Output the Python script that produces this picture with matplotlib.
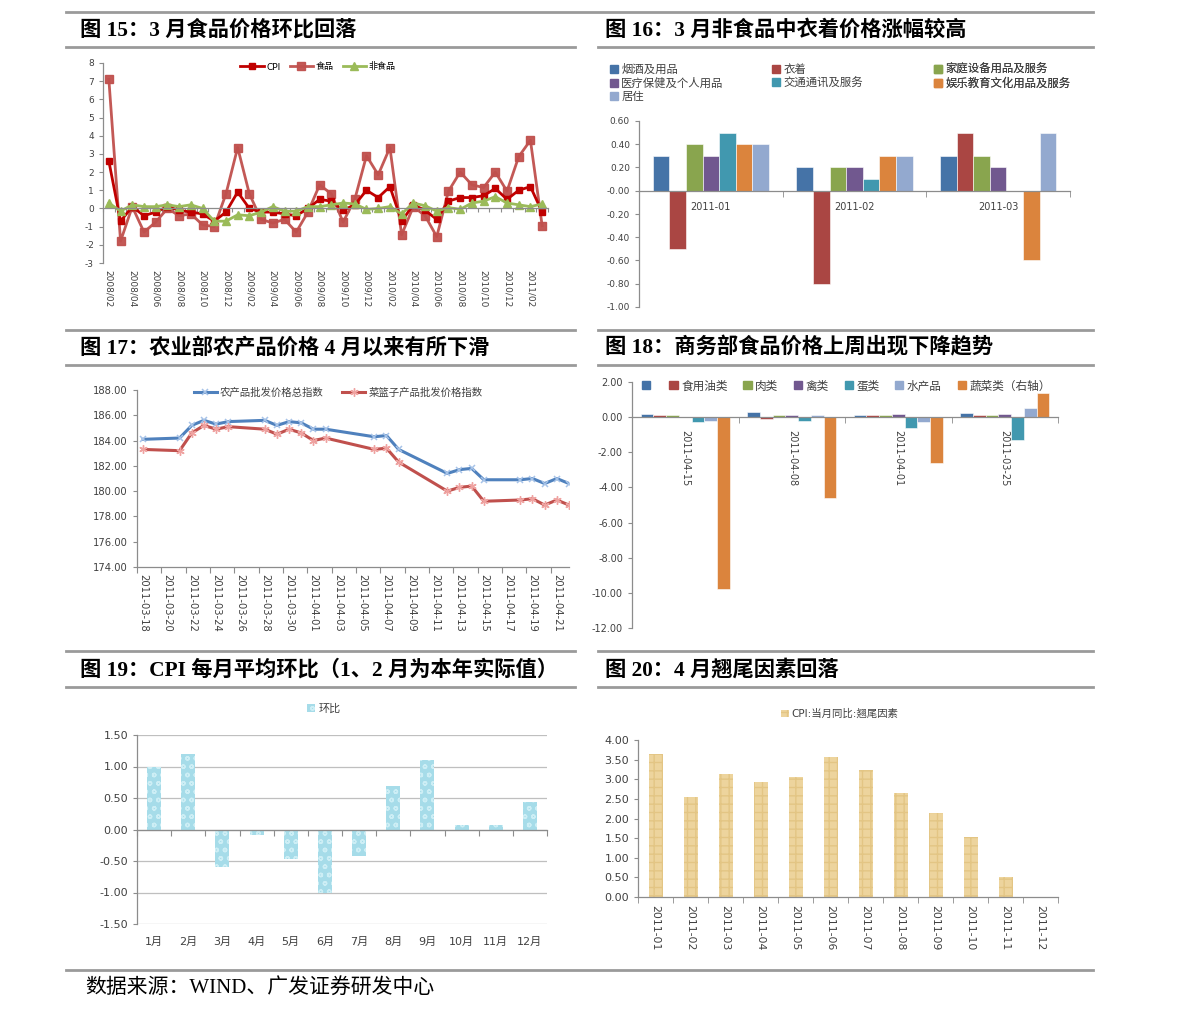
import matplotlib
matplotlib.use('Agg')
import matplotlib.pyplot as plt
import numpy as np
from matplotlib.patches import Patch
from matplotlib.lines import Line2D
from matplotlib.ticker import FormatStrFormatter

plt.rcParams['font.family'] = ['DejaVu Sans', 'Noto Sans CJK SC']
plt.rcParams['axes.unicode_minus'] = False

# ---- fig 15: CPI / food / non-food month-on-month ----
months15 = ['2008/02', '2008/03', '2008/04', '2008/05', '2008/06', '2008/07', '2008/08', '2008/09',
            '2008/10', '2008/11', '2008/12', '2009/01', '2009/02', '2009/03', '2009/04', '2009/05',
            '2009/06', '2009/07', '2009/08', '2009/09', '2009/10', '2009/11', '2009/12', '2010/01',
            '2010/02', '2010/03', '2010/04', '2010/05', '2010/06', '2010/07', '2010/08', '2010/09',
            '2010/10', '2010/11', '2010/12', '2011/01', '2011/02', '2011/03']
cpi15 = [2.6, -0.7, 0.1, -0.4, -0.2, 0.1, -0.1, -0.2, -0.3, -0.7, -0.2, 0.9, 0.0, -0.2, -0.2, -0.3,
         -0.4, 0.0, 0.5, 0.4, -0.1, 0.2, 1.0, 0.6, 1.2, -0.7, 0.2, -0.1, -0.6, 0.4, 0.6, 0.6,
         0.7, 1.1, 0.5, 1.0, 1.2, -0.2]
food15 = [7.1, -1.8, 0.1, -1.3, -0.75, 0.0, -0.4, -0.3, -0.9, -1.0, 0.8, 3.35, 0.8, -0.6, -0.8, -0.6,
          -1.3, -0.2, 1.3, 0.8, -0.75, 0.5, 2.9, 1.85, 3.35, -1.45, 0.1, -0.4, -1.55, 0.95, 2.0, 1.3,
          1.15, 2.0, 0.95, 2.85, 3.75, -0.95]
nonfood15 = [0.3, -0.15, 0.2, 0.1, 0.1, 0.2, 0.1, 0.2, 0.0, -0.7, -0.7, -0.35, -0.4, -0.2, 0.1, -0.15,
             -0.15, 0.1, 0.1, 0.2, 0.3, 0.25, -0.05, 0.0, 0.1, -0.3, 0.3, 0.15, -0.15, 0.05, -0.05, 0.3,
             0.4, 0.65, 0.3, 0.2, 0.1, 0.25]

# ---- fig 16: non-food categories ----
cats16 = ['2011-01', '2011-02', '2011-03']
names16 = ['烟酒及用品', '衣着', '家庭设备用品及服务', '医疗保健及个人用品',
           '交通通讯及服务', '娱乐教育文化用品及服务', '居住']
tobacco16 = [0.30, 0.20, 0.30]
clothing16 = [-0.50, -0.80, 0.50]
household16 = [0.40, 0.20, 0.30]
medical16 = [0.30, 0.20, 0.20]
transport16 = [0.50, 0.10, 0.00]
education16 = [0.40, 0.30, -0.60]
housing16 = [0.40, 0.30, 0.50]

# ---- fig 17: agricultural wholesale price index ----
dates17 = ['2011-03-18', '2011-03-21', '2011-03-22', '2011-03-23', '2011-03-24', '2011-03-25',
           '2011-03-28', '2011-03-29', '2011-03-30', '2011-03-31', '2011-04-01', '2011-04-02',
           '2011-04-06', '2011-04-07', '2011-04-08', '2011-04-12', '2011-04-13', '2011-04-14',
           '2011-04-15', '2011-04-18', '2011-04-19', '2011-04-20', '2011-04-21', '2011-04-22']
agri17 = [184.1, 184.2, 185.2, 185.6, 185.3, 185.5, 185.6, 185.2, 185.5, 185.4, 184.9, 184.9,
          184.3, 184.4, 183.3, 181.4, 181.7, 181.8, 180.9, 180.9, 181.0, 180.6, 181.0, 180.6]
basket17 = [183.3, 183.2, 184.6, 185.2, 184.9, 185.1, 184.9, 184.5, 184.9, 184.6, 184.0, 184.2,
            183.3, 183.4, 182.3, 180.0, 180.3, 180.4, 179.2, 179.3, 179.4, 178.9, 179.3, 178.9]
ticks17 = ['2011-03-18', '2011-03-20', '2011-03-22', '2011-03-24', '2011-03-26', '2011-03-28',
           '2011-03-30', '2011-04-01', '2011-04-03', '2011-04-05', '2011-04-07', '2011-04-09',
           '2011-04-11', '2011-04-13', '2011-04-15', '2011-04-17', '2011-04-19', '2011-04-21']

# ---- fig 18: MOFCOM food prices weekly change ----
cats18 = ['2011-04-15', '2011-04-08', '2011-04-01', '2011-03-25']
names18 = ['', '食用油类', '肉类', '禽类', '蛋类', '水产品', '蔬菜类（右轴）']
blank18 = [0.2, 0.3, 0.1, 0.25]
oil18 = [0.1, -0.1, 0.1, 0.1]
meat18 = [0.1, 0.1, 0.1, 0.1]
poultry18 = [0.0, 0.1, 0.2, 0.2]
egg18 = [-0.3, -0.2, -0.6, -1.3]
aquatic18 = [-0.2, 0.1, -0.3, 0.5]
veg18 = [-9.8, -4.6, -2.6, 1.4]

# ---- fig 19: CPI monthly average m-o-m ----
months19 = ['1月', '2月', '3月', '4月', '5月', '6月', '7月', '8月', '9月', '10月', '11月', '12月']
mom19 = [1.0, 1.2, -0.6, -0.09, -0.47, -1.0, -0.42, 0.69, 1.1, 0.07, 0.07, 0.43]

# ---- fig 20: carry-over (tail) factor ----
months20 = ['2011-01', '2011-02', '2011-03', '2011-04', '2011-05', '2011-06',
            '2011-07', '2011-08', '2011-09', '2011-10', '2011-11', '2011-12']
tail20 = [3.64, 2.54, 3.13, 2.94, 3.05, 3.56, 3.23, 2.64, 2.13, 1.52, 0.51, 0.0]

BLUE, RED, GREEN, PURPLE = '#4573A7', '#AA4643', '#89A54E', '#71588F'
TEAL, ORANGE, LBLUE = '#4198AF', '#DB843D', '#93A9CF'
colors16 = [BLUE, RED, GREEN, PURPLE, TEAL, ORANGE, LBLUE]
colors18 = [BLUE, RED, GREEN, PURPLE, TEAL, LBLUE, ORANGE]
AXC = '#8C8C8C'
TXT = '#404040'
W, H = 1191, 1021

fig = plt.figure(figsize=(W / 100, H / 100), dpi=100)


def px_axes(l, t, r, b):
    return fig.add_axes([l / W, 1 - b / H, (r - l) / W, (b - t) / H])


def style(ax, fs):
    for s in ['top', 'right']:
        ax.spines[s].set_visible(False)
    for s in ['left', 'bottom']:
        ax.spines[s].set_color(AXC)
        ax.spines[s].set_linewidth(0.9)
    ax.tick_params(colors=AXC, labelcolor=TXT, labelsize=fs, length=3, width=0.8)


def fpos(x, y):
    return (x / W, 1 - y / H)


# ================= fig 15 =================
ax = px_axes(103, 63, 548, 263)
style(ax, 6.5)
x = np.arange(len(months15))
l_food, = ax.plot(x, food15, color='#C0504D', lw=2, marker='s', ms=5.5, alpha=0.95)
l_cpi, = ax.plot(x, cpi15, color='#C00000', lw=2, marker='s', ms=4.5)
l_non, = ax.plot(x, nonfood15, color='#9BBB59', lw=2, marker='^', ms=5.5)
ax.set_xlim(-0.5, len(months15) - 0.5)
ax.set_ylim(-3, 8)
ax.set_yticks(range(-3, 9))
ax.spines['bottom'].set_position(('data', 0))
ax.set_xticks(np.arange(-0.5, len(months15), 1))
ax.set_xticklabels([])
ax.tick_params(axis='x', length=3)
sec = ax.secondary_xaxis('bottom')
sec.spines['bottom'].set_visible(False)
sec.set_xticks(x[::2], labels=months15[::2])
sec.tick_params(length=0, pad=5, labelsize=6.5, labelcolor=TXT, labelrotation=270)
ax.legend([l_cpi, l_food, l_non], ['CPI', '食品', '非食品'], loc='center',
          bbox_to_anchor=fpos(318, 67), bbox_transform=fig.transFigure, ncol=3,
          frameon=False, fontsize=6.5, handlelength=2.6, columnspacing=1.0,
          handletextpad=0.3)

# ================= fig 16 =================
ax = px_axes(639, 121, 1070, 307)
style(ax, 6.5)
x = np.arange(len(cats16))
bw = 0.116
series16 = [tobacco16, clothing16, household16, medical16, transport16, education16, housing16]
handles16 = []
for j, vals in enumerate(series16):
    ax.bar(x + (j - 3) * bw, vals, bw, color=colors16[j], edgecolor='white', lw=0.4)
    handles16.append(Patch(color=colors16[j]))
ax.set_xlim(-0.5, 2.5)
ax.set_ylim(-1.0, 0.6)
ax.set_yticks(np.arange(-1.0, 0.61, 0.2))
ax.yaxis.set_major_formatter(FormatStrFormatter('%.2f'))
ax.spines['bottom'].set_position(('data', 0))
ax.set_xticks(x, cats16)
ax.set_xticks(np.arange(-0.5, 2.6, 1), minor=True)
ax.tick_params(axis='x', which='major', length=0, pad=8, labelsize=7)
ax.tick_params(axis='x', which='minor', length=4, color=AXC)
legend_cols = [([0, 3, 6], 610), ([1, 4], 772), ([2, 5], 934)]
for idx, xl in legend_cols:
    lg = ax.legend([handles16[i] for i in idx], [names16[i] for i in idx], loc='upper left',
                   bbox_to_anchor=fpos(xl, 64), bbox_transform=fig.transFigure,
                   frameon=False, fontsize=8.2, handlelength=0.7, handleheight=0.7,
                   handletextpad=0.3, labelspacing=0.22, borderaxespad=0, borderpad=0,
                   labelcolor=TXT)
    ax.add_artist(lg)

# ================= fig 17 =================
ax = px_axes(137, 390, 569, 567)
style(ax, 7.2)
d17 = (np.array(dates17, dtype='datetime64[D]') - np.datetime64(dates17[0], 'D')).astype(int)
t17 = (np.array(ticks17, dtype='datetime64[D]') - np.datetime64(dates17[0], 'D')).astype(int)
l_a, = ax.plot(d17, agri17, color='#4F81BD', lw=2.2, marker='x', ms=5, mec='#A7C3E8', mew=1.1)
l_b, = ax.plot(d17, basket17, color='#C0504D', lw=2.2, marker=(6, 2, 0), ms=6, mec='#EFA3A1',
               mew=1.0)
ax.set_xlim(-0.5, d17[-1])
ax.set_ylim(174, 188)
ax.set_yticks(np.arange(174, 188.1, 2))
ax.yaxis.set_major_formatter(FormatStrFormatter('%.2f'))
ax.set_xticks(np.arange(-0.5, d17[-1], 2))
ax.set_xticklabels([])
ax.set_xticks(t17, ticks17, minor=True)
ax.tick_params(axis='x', which='major', length=4)
ax.tick_params(axis='x', which='minor', length=0, pad=5, labelsize=7.2, labelcolor=TXT,
               labelrotation=270)
ax.legend([l_a, l_b], ['农产品批发价格总指数', '菜篮子产品批发价格指数'], loc='center',
          bbox_to_anchor=fpos(338, 393), bbox_transform=fig.transFigure, ncol=2,
          frameon=False, fontsize=7.5, handlelength=2.2, columnspacing=1.8, handletextpad=0.3,
          labelcolor=TXT)

# ================= fig 18 =================
ax = px_axes(632, 382, 1058, 628)
style(ax, 7)
x = np.arange(len(cats18))
bw = 0.12
series18 = [blank18, oil18, meat18, poultry18, egg18, aquatic18, veg18]
handles18 = []
for j, vals in enumerate(series18):
    ax.bar(x + (j - 3) * bw, vals, bw, color=colors18[j], edgecolor='white', lw=0.4)
    handles18.append(Patch(color=colors18[j]))
ax.set_xlim(-0.5, 3.5)
ax.set_ylim(-12, 2)
ax.set_yticks(np.arange(-12, 2.1, 2))
ax.yaxis.set_major_formatter(FormatStrFormatter('%.2f'))
ax.spines['bottom'].set_position(('data', 0))
ax.set_xticks(x, cats18)
ax.set_xticks(np.arange(-0.5, 3.6, 1), minor=True)
ax.tick_params(axis='x', which='major', length=0, pad=9, labelsize=7, labelrotation=270)
ax.tick_params(axis='x', which='minor', length=4, color=AXC)
ax.legend(handles18, names18, loc='center left', bbox_to_anchor=fpos(642, 386),
          bbox_transform=fig.transFigure, ncol=7, frameon=False, fontsize=8.4,
          handlelength=0.7, handleheight=0.7, handletextpad=0.3, columnspacing=1.35,
          borderaxespad=0, borderpad=0, labelcolor=TXT)

# ================= fig 19 =================
ax = px_axes(137, 735, 547, 924)
style(ax, 8)
x = np.arange(len(months19))
ax.bar(x, mom19, 0.41, color='#A6DCE9', edgecolor='#CDEEF5', lw=0, hatch='oo')
ax.set_xlim(-0.5, 11.5)
ax.set_ylim(-1.5, 1.5)
ax.set_yticks(np.arange(-1.5, 1.51, 0.5))
ax.yaxis.set_major_formatter(FormatStrFormatter('%.2f'))
ax.yaxis.grid(True, color='#BFBFBF', lw=0.9)
ax.set_axisbelow(True)
ax.spines['bottom'].set_position(('data', 0))
ax.set_xticks(np.arange(-0.5, 11.6, 1))
ax.set_xticklabels([])
ax.tick_params(axis='x', length=4)
sec = ax.secondary_xaxis('bottom')
sec.spines['bottom'].set_visible(False)
sec.set_xticks(x, labels=months19)
sec.tick_params(length=0, pad=9, labelsize=8, labelcolor=TXT)
ax.legend([Patch(facecolor='#A6DCE9', edgecolor='#CDEEF5', hatch='oo', lw=0)], ['环比'],
          loc='center', bbox_to_anchor=fpos(324, 709), bbox_transform=fig.transFigure,
          frameon=False, fontsize=8, handlelength=0.7, handleheight=0.7, handletextpad=0.3,
          labelcolor=TXT)

# ================= fig 20 =================
ax = px_axes(638, 740, 1058, 897)
style(ax, 8)
x = np.arange(len(months20))
ax.bar(x, tail20, 0.4, color='#EDD49D', edgecolor='#E3C584', lw=0, hatch='++')
ax.set_xlim(-0.5, 11.5)
ax.set_ylim(0, 4)
ax.set_yticks(np.arange(0, 4.01, 0.5))
ax.yaxis.set_major_formatter(FormatStrFormatter('%.2f'))
ax.set_xticks(x, months20)
ax.set_xticks(np.arange(-0.5, 11.6, 1), minor=True)
ax.tick_params(axis='x', which='major', length=0, pad=6, labelsize=7.8, labelrotation=270)
ax.tick_params(axis='x', which='minor', length=4, color=AXC)
ax.legend([Patch(facecolor='#EDD49D', edgecolor='#E3C584', hatch='++', lw=0)],
          ['CPI:当月同比:翘尾因素'], loc='center', bbox_to_anchor=fpos(840, 714),
          bbox_transform=fig.transFigure, frameon=False, fontsize=7.5,
          handlelength=0.7, handleheight=0.7, handletextpad=0.3, labelcolor=TXT)

# ================= titles, rules, footer =================
title_font = ['Liberation Serif', 'Noto Sans CJK SC']
titles = [('图 15：3 月食品价格环比回落', 80, 30),
          ('图 16：3 月非食品中衣着价格涨幅较高', 605, 30),
          ('图 17：农业部农产品价格 4 月以来有所下滑', 80, 348),
          ('图 18：商务部食品价格上周出现下降趋势', 605, 348),
          ('图 19：CPI 每月平均环比（1、2 月为本年实际值）', 80, 670),
          ('图 20：4 月翘尾因素回落', 605, 670)]
for txt, tx, ty in titles:
    fig.text(tx / W, 1 - ty / H, txt, fontsize=15.3, fontweight='bold', family=title_font,
             ha='left', va='center', color='black')

rule_c = '#9A9A9A'
for y in [12, 970]:
    fig.add_artist(Line2D([66 / W, 1093 / W], [1 - y / H, 1 - y / H], color=rule_c, lw=2))
for y in [47, 330, 365, 651, 687]:
    fig.add_artist(Line2D([66 / W, 575 / W], [1 - y / H, 1 - y / H], color=rule_c, lw=2))
    fig.add_artist(Line2D([598 / W, 1093 / W], [1 - y / H, 1 - y / H], color=rule_c, lw=2))

fig.text(85 / W, 1 - 988 / H, '数据来源：WIND、广发证券研发中心', fontsize=15, family=title_font,
         ha='left', va='center', color='black')

fig.savefig('out.png', dpi=100)
